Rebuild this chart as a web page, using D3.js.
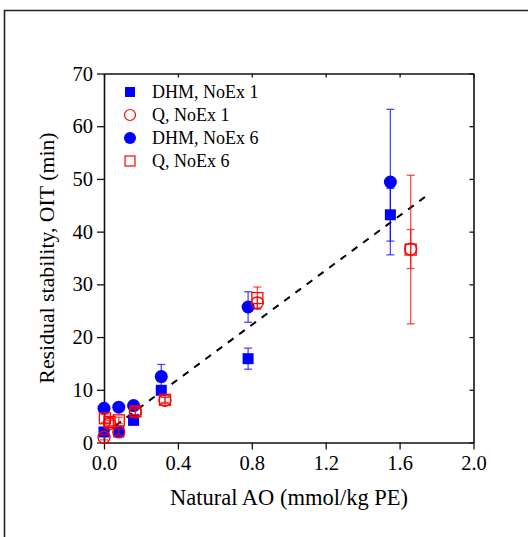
<!DOCTYPE html>
<html>
<head>
<meta charset="utf-8">
<script src="https://cdn.jsdelivr.net/npm/d3@7"></script>
<style>
  body { margin: 0; background: #fff; }
</style>
</head>
<body>
<div id="chart"></div>
<script>
// series: [x, y, err]
var dhmNoEx1 = [[0.0, 2.0, 0.6], [0.08, 2.0, 0.5], [0.16, 4.2, 0.6], [0.31, 9.9, 0.8], [0.78, 15.9, 2.0], [1.55, 43.2, 5.0]];
var qNoEx1 = [[0.0, 1.0, 0.5], [0.03, 3.6, 0.6], [0.08, 2.0, 0.6], [0.17, 5.8, 0.5], [0.33, 8.0, 0.6], [0.83, 26.5, 1.0], [1.66, 36.7, 3.7]];
var dhmNoEx6 = [[0.0, 6.5, 0.5], [0.08, 6.7, 0.5], [0.16, 7.0, 0.5], [0.31, 12.5, 2.3], [0.78, 25.7, 2.9], [1.55, 49.4, 13.8]];
var qNoEx6 = [[0.005, 4.6, 0.8], [0.03, 3.9, 0.7], [0.08, 4.2, 0.6], [0.17, 5.9, 0.6], [0.33, 8.1, 0.5], [0.83, 27.4, 2.1], [1.66, 36.6, 14.1]];
var fitLine = [[0.0, 1.6], [1.75, 46.9]];

var xTicks = [0.0, 0.4, 0.8, 1.2, 1.6, 2.0];
var yTicks = [0, 10, 20, 30, 40, 50, 60, 70];
var legendNames = ["DHM, NoEx 1", "Q, NoEx 1", "DHM, NoEx 6", "Q, NoEx 6"];

var blue = "#0000ff", red = "#ff0000";
var serif = "'Liberation Serif', 'Times New Roman', serif";

var svg = d3.select("#chart")
  .append("svg")
  .attr("width", 528)
  .attr("height", 537)
  .attr("font-family", serif);

// outer frame (left and top edges only visible)
svg.append("path")
  .attr("d", "M4.5,537V10.5H528")
  .attr("fill", "none")
  .attr("stroke", "#222")
  .attr("stroke-width", 1.6);

var x = d3.scaleLinear().domain([0, 2]).range([104, 473.5]);
var y = d3.scaleLinear().domain([0, 70]).range([442.5, 73.5]);

var fmt = d3.format(".1f");

// bottom axis
svg.append("g")
  .attr("transform", "translate(0,442.5)")
  .call(d3.axisBottom(x).tickValues(xTicks).tickFormat(fmt).tickSize(7).tickSizeOuter(0))
  .attr("font-family", serif)
  .attr("font-size", 20.5)
  .call(function(g) {
    g.selectAll("text").attr("y", 9).attr("dy", "0.9em").attr("fill", "#000");
  });

// left axis
svg.append("g")
  .attr("transform", "translate(104,0)")
  .call(d3.axisLeft(y).tickValues(yTicks).tickSize(7).tickSizeOuter(0))
  .attr("font-family", serif)
  .attr("font-size", 20.5)
  .call(function(g) {
    g.selectAll("text").attr("x", -11).attr("fill", "#000");
  });

// top axis, inward ticks
svg.append("g")
  .attr("transform", "translate(0,73.5)")
  .call(d3.axisBottom(x).tickValues(xTicks).tickSize(4).tickSizeOuter(0).tickFormat(""));

// right axis, inward ticks
svg.append("g")
  .attr("transform", "translate(473.5,0)")
  .call(d3.axisLeft(y).tickValues(yTicks).tickSize(4).tickSizeOuter(0).tickFormat(""));

svg.selectAll(".domain").attr("stroke", "#111").attr("stroke-width", 1.6);
svg.selectAll(".tick line").attr("stroke", "#111").attr("stroke-width", 1.3);

// axis titles
svg.append("text")
  .attr("x", 289)
  .attr("y", 505)
  .attr("text-anchor", "middle")
  .attr("font-size", 22.5)
  .attr("fill", "#000")
  .text("Natural AO (mmol/kg PE)");

svg.append("text")
  .attr("transform", "translate(54,258) rotate(-90)")
  .attr("text-anchor", "middle")
  .attr("font-size", 21.8)
  .attr("fill", "#000")
  .text("Residual stability, OIT (min)");

// fit line
svg.append("path")
  .datum(fitLine)
  .attr("d", d3.line().x(function(d) { return x(d[0]); }).y(function(d) { return y(d[1]); }))
  .attr("fill", "none")
  .attr("stroke", "#000")
  .attr("stroke-width", 2)
  .attr("stroke-dasharray", "7,7");

// error bars
function errorBars(data, color) {
  var g = svg.append("g").attr("stroke", color).attr("stroke-width", 1.3).attr("stroke-opacity", 0.7);
  data.forEach(function(d) {
    var cx = x(d[0]);
    g.append("line").attr("x1", cx).attr("x2", cx).attr("y1", y(d[1] - d[2])).attr("y2", y(d[1] + d[2]));
    g.append("line").attr("x1", cx - 4).attr("x2", cx + 4).attr("y1", y(d[1] - d[2])).attr("y2", y(d[1] - d[2]));
    g.append("line").attr("x1", cx - 4).attr("x2", cx + 4).attr("y1", y(d[1] + d[2])).attr("y2", y(d[1] + d[2]));
  });
}

function squares(data, filled, color) {
  svg.append("g").selectAll("rect")
    .data(data)
    .enter()
    .append("rect")
    .attr("x", function(d) { return x(d[0]) - 5.5; })
    .attr("y", function(d) { return y(d[1]) - 5.5; })
    .attr("width", 11)
    .attr("height", 11)
    .attr("fill", filled ? color : "#fff")
    .attr("fill-opacity", filled ? 1 : 0)
    .attr("stroke", color)
    .attr("stroke-width", filled ? 0 : 1.3);
}

function circles(data, filled, color) {
  svg.append("g").selectAll("circle")
    .data(data)
    .enter()
    .append("circle")
    .attr("cx", function(d) { return x(d[0]); })
    .attr("cy", function(d) { return y(d[1]); })
    .attr("r", filled ? 6.5 : 6)
    .attr("fill", filled ? color : "none")
    .attr("stroke", color)
    .attr("stroke-width", filled ? 0 : 1.3);
}

errorBars(dhmNoEx1, blue);
errorBars(dhmNoEx6, blue);
squares(dhmNoEx1, true, blue);
circles(dhmNoEx6, true, blue);
errorBars(qNoEx1, red);
errorBars(qNoEx6, red);
circles(qNoEx1, false, red);
squares(qNoEx6, false, red);

// legend
var legend = svg.append("g");
var ly = [92, 115, 138, 161];
legendNames.forEach(function(name, i) {
  var cy = ly[i], cx = 130;
  if (i === 0) legend.append("rect").attr("x", cx - 5).attr("y", cy - 5).attr("width", 10).attr("height", 10).attr("fill", blue);
  if (i === 1) legend.append("circle").attr("cx", cx).attr("cy", cy).attr("r", 5.5).attr("fill", "none").attr("stroke", red).attr("stroke-width", 1.2);
  if (i === 2) legend.append("circle").attr("cx", cx).attr("cy", cy).attr("r", 6).attr("fill", blue);
  if (i === 3) legend.append("rect").attr("x", cx - 5).attr("y", cy - 5).attr("width", 10).attr("height", 10).attr("fill", "none").attr("stroke", red).attr("stroke-width", 1.2);
  legend.append("text")
    .attr("x", 152)
    .attr("y", cy)
    .attr("dy", "0.35em")
    .attr("font-size", 18)
    .attr("fill", "#000")
    .text(name);
});
</script>
</body>
</html>
